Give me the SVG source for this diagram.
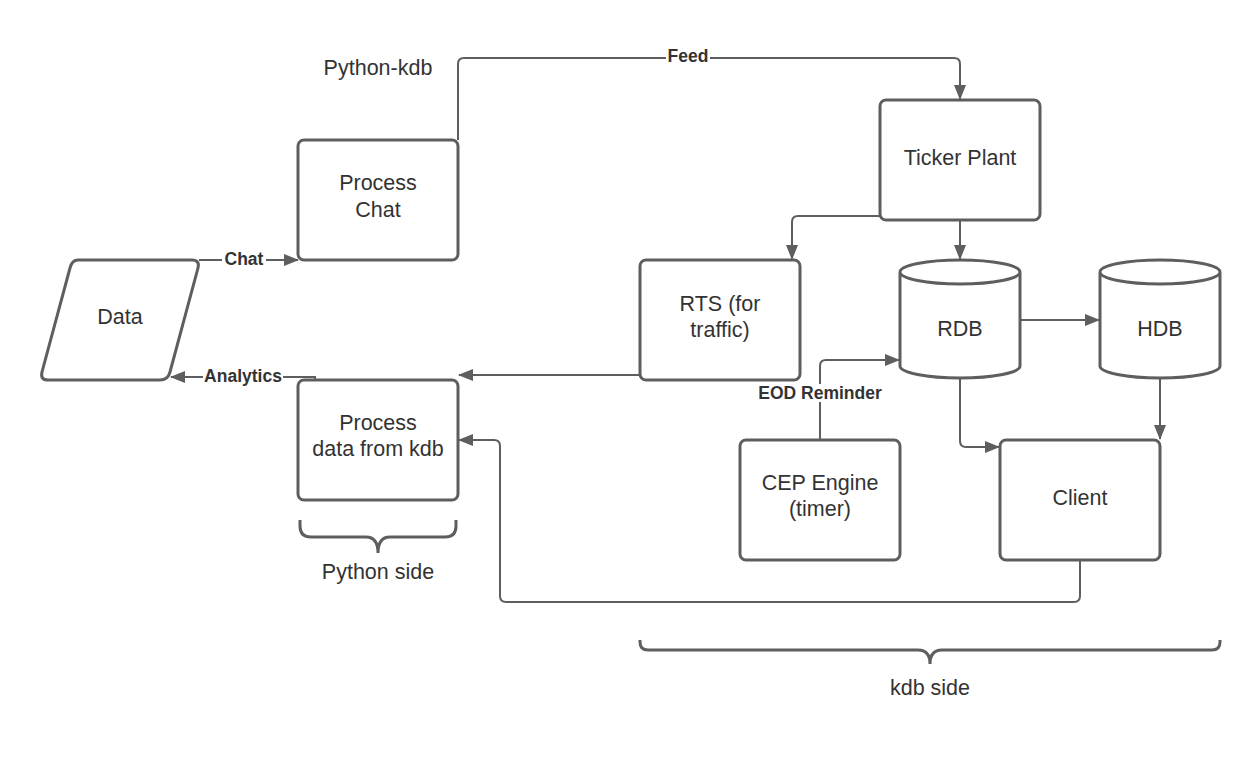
<svg xmlns="http://www.w3.org/2000/svg" width="1260" height="760" viewBox="0 0 1260 760">
<style>
.n{fill:#fff;stroke:#5e5e5e;stroke-width:3}
.c{fill:none;stroke:#5e5e5e;stroke-width:2}
.t{font-family:"Liberation Sans",Arial,sans-serif;font-size:21.5px;fill:#333;text-anchor:middle}
.l{font-family:"Liberation Sans",Arial,sans-serif;font-size:17.5px;font-weight:bold;fill:#333;text-anchor:middle}
.bg{fill:#fff}
</style>
<defs>
<marker id="a" viewBox="0 0 15 12" refX="14" refY="6" markerWidth="15" markerHeight="12" markerUnits="userSpaceOnUse" orient="auto">
<path d="M0,0 L15,6 L0,12 z" fill="#5e5e5e"/>
</marker>
</defs>
<rect width="1260" height="760" fill="#fff"/>
<g id="connectors">
<path class="c" d="M458,140 V64 q0,-6 6,-6 H954 q6,0 6,6 V99" marker-end="url(#a)"/>
<path class="c" d="M199,260 H298" marker-end="url(#a)"/>
<path class="c" d="M315,380 V377 H171" marker-end="url(#a)"/>
<path class="c" d="M880,216 H798 q-6,0 -6,6 V259" marker-end="url(#a)"/>
<path class="c" d="M960,220 V259" marker-end="url(#a)"/>
<path class="c" d="M640,375 H459" marker-end="url(#a)"/>
<path class="c" d="M1020,320 H1099" marker-end="url(#a)"/>
<path class="c" d="M820,440 V366 q0,-6 6,-6 H899" marker-end="url(#a)"/>
<path class="c" d="M960,379 V441 q0,6 6,6 H999" marker-end="url(#a)"/>
<path class="c" d="M1160,379 V439" marker-end="url(#a)"/>
<path class="c" d="M1080,560 V596 q0,6 -6,6 H506 q-6,0 -6,-6 V446 q0,-6 -6,-6 H459" marker-end="url(#a)"/>
<rect class="bg" x="666" y="48" width="44" height="18"/>
<text class="l" x="688" y="62">Feed</text>
<rect class="bg" x="222" y="251" width="44" height="18"/>
<text class="l" x="244" y="265">Chat</text>
<rect class="bg" x="203" y="368" width="80" height="18"/>
<text class="l" x="243" y="382">Analytics</text>
<rect class="bg" x="755" y="384" width="130" height="18"/>
<text class="l" x="820" y="399">EOD Reminder</text>
</g>
<g id="data">
<path class="n" d="M78,260 H192 q8,0 6,8 L170,372 q-2,8 -10,8 H48 q-8,0 -6,-8 L70,268 q2,-8 8,-8 z"/>
<text class="t" x="120" y="324">Data</text>
</g>
<g id="process-chat">
<rect class="n" x="298" y="140" width="160" height="120" rx="6"/>
<text class="t" x="378" y="190">Process</text>
<text class="t" x="378" y="217">Chat</text>
</g>
<g id="python-kdb">
<text class="t" x="378" y="75">Python-kdb</text>
</g>
<g id="ticker-plant">
<rect class="n" x="880" y="100" width="160" height="120" rx="6"/>
<text class="t" x="960" y="165">Ticker Plant</text>
</g>
<g id="rts">
<rect class="n" x="640" y="260" width="160" height="120" rx="6"/>
<text class="t" x="720" y="311">RTS (for</text>
<text class="t" x="720" y="337">traffic)</text>
</g>
<g id="rdb">
<path class="n" d="M900,272 V366 a60,12 0 0 0 120,0 V272 a60,12 0 0 0 -120,0 a60,12 0 0 0 120,0"/>
<text class="t" x="960" y="336">RDB</text>
</g>
<g id="hdb">
<path class="n" d="M1100,272 V366 a60,12 0 0 0 120,0 V272 a60,12 0 0 0 -120,0 a60,12 0 0 0 120,0"/>
<text class="t" x="1160" y="336">HDB</text>
</g>
<g id="process-data">
<rect class="n" x="298" y="380" width="160" height="120" rx="6"/>
<text class="t" x="378" y="430">Process</text>
<text class="t" x="378" y="456">data from kdb</text>
</g>
<g id="cep-engine">
<rect class="n" x="740" y="440" width="160" height="120" rx="6"/>
<text class="t" x="820" y="490">CEP Engine</text>
<text class="t" x="820" y="516">(timer)</text>
</g>
<g id="client">
<rect class="n" x="1000" y="440" width="160" height="120" rx="6"/>
<text class="t" x="1080" y="505">Client</text>
</g>
<g id="python-side">
<path class="c" style="stroke-width:3" d="M300,520 v6 q0,11 11,11 H366 q12,0 12,16 q0,-16 12,-16 H445 q11,0 11,-11 v-6"/>
<text class="t" x="378" y="579">Python side</text>
</g>
<g id="kdb-side">
<path class="c" style="stroke-width:3" d="M640,640 v2 q0,8 8,8 H918 q12,0 12,14 q0,-14 12,-14 H1212 q8,0 8,-8 v-2"/>
<text class="t" x="930" y="695">kdb side</text>
</g>
</svg>
